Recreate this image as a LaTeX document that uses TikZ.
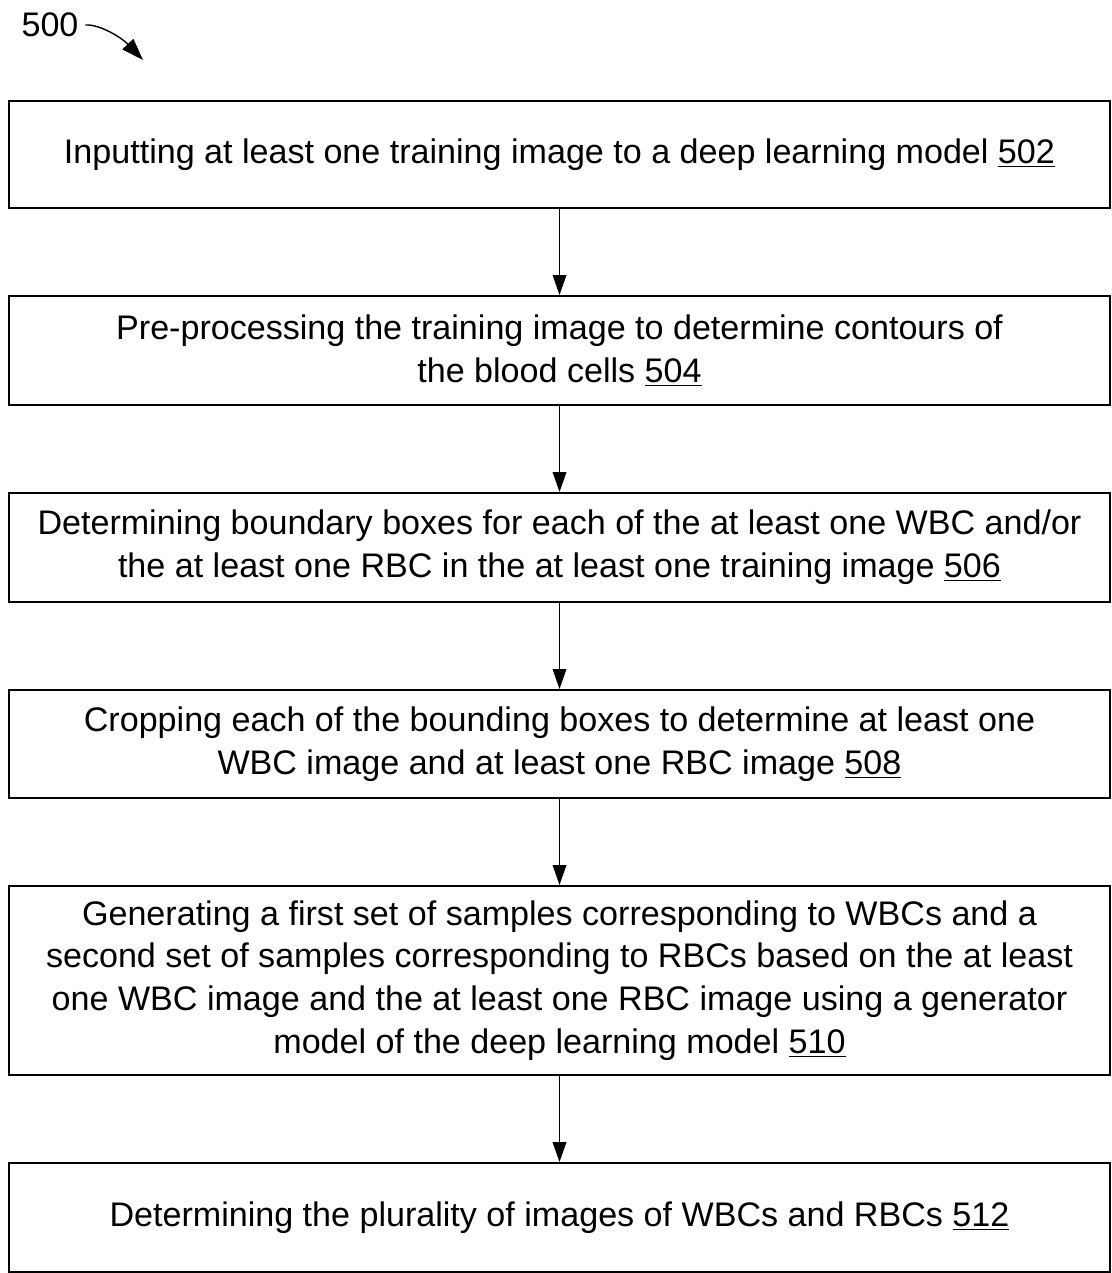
\documentclass[tikz,border=0pt]{standalone}
\usepackage{fontspec}
\setmainfont{Liberation Sans}
\usetikzlibrary{arrows.meta}

\begin{document}
\begin{tikzpicture}[x=0.02cm,y=-0.02cm,line width=1.1pt,
  stepbox/.style={rectangle,draw=black,minimum width=22.02cm,align=center,font=\fontsize{19.4}{24.4}\selectfont,inner sep=0pt},
  flow/.style={-{Triangle[length=0.4cm,width=0.27cm]}}]
\useasboundingbox (0,0) rectangle (1111,1273);
  \path
(559.5,154.5) node [stepbox,minimum height=2.14cm] (s502) {Inputting at least one training image to a deep learning model \underline{502}}
(559.5,350.5) node [stepbox,minimum height=2.18cm] (s504) {Pre-processing the training image to determine contours of\\ the blood cells \underline{504}}
(559.5,547.5) node [stepbox,minimum height=2.18cm] (s506) {Determining boundary boxes for each of the at least one WBC and/or\\ the at least one RBC in the at least one training image \underline{506}}
(559.5,744) node [stepbox,minimum height=2.16cm] (s508) {Cropping each of the bounding boxes to determine at least one\\ WBC image and at least one RBC image \underline{508}}
(559.5,980.5) node [stepbox,minimum height=3.78cm] (s510) {Generating a first set of samples corresponding to WBCs and a\\ second set of samples corresponding to RBCs based on the at least\\ one WBC image and the at least one RBC image using a generator\\ model of the deep learning model \underline{510}}
(559.5,1217.5) node [stepbox,minimum height=2.18cm] (s512) {Determining the plurality of images of WBCs and RBCs \underline{512}}
(50,25) node [font=\fontsize{19.4}{20}\selectfont] (fig) {500}
(143,60) coordinate (figtip);

  \draw[flow] (s502) -- (s504);
  \draw[flow] (s504) -- (s506);
  \draw[flow] (s506) -- (s508);
  \draw[flow] (s508) -- (s510);
  \draw[flow] (s510) -- (s512);
  \draw[-{Triangle[length=0.44cm,width=0.3cm]},line width=0.8pt] (fig.east) .. controls (100,24) and (122,38) .. (figtip);
\end{tikzpicture}
\end{document}
